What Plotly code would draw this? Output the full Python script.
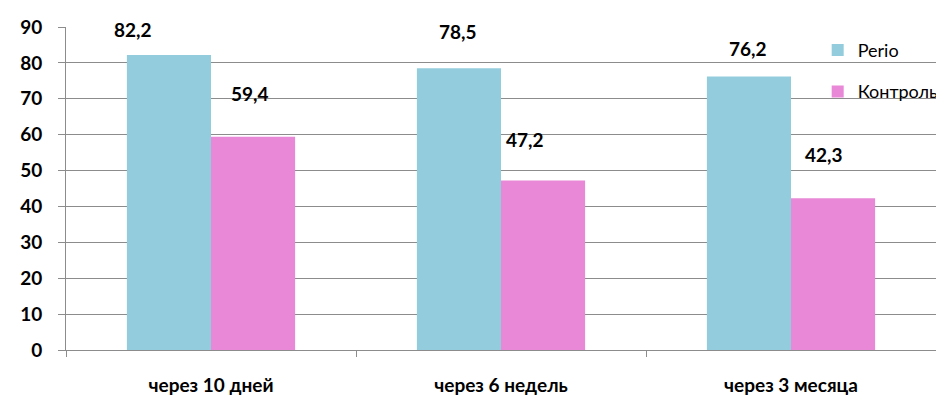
import plotly.graph_objects as go

categories = ["через 10 дней", "через 6 недель", "через 3 месяца"]
perio = [82.2, 78.5, 76.2]
control = [59.4, 47.2, 42.3]
series_names = ["Perio", "Контроль"]

# per-label nudges (pixels) for the value callouts
perio_shift = [(-36, 22), (-1, 33), (-1, 25)]
control_shift = [(-3, 40), (-18, 38), (-9, 40)]

BLUE = "#93CDDD"
PINK = "#E888D6"
GRID = "#8C8C8C"
FONT = "Lato, 'Liberation Sans', sans-serif"

fig = go.Figure()
fig.add_trace(go.Bar(x=categories, y=perio, name=series_names[0],
                     marker=dict(color=BLUE, line=dict(width=0)),
                     legendgroup="a"))
fig.add_trace(go.Bar(x=categories, y=control, name=series_names[1],
                     marker=dict(color=PINK, line=dict(width=0)),
                     legendgroup="b"))

annotations = []
for i, c in enumerate(categories):
    for vals, shifts, off in ((perio, perio_shift, -0.5), (control, control_shift, 0.5)):
        dx, dy = shifts[i]
        annotations.append(dict(
            x=c, y=vals[i], xref="x", yref="y",
            text=f"{vals[i]:.1f}".replace(".", ","),
            showarrow=False, xanchor="center", yanchor="bottom",
            xshift=off * 84 + dx, yshift=dy - 10,
            font=dict(family=FONT, size=19, color="#000000", weight="bold"),
        ))

fig.update_layout(
    width=936, height=397,
    margin=dict(l=66, r=0, t=27, b=47, autoexpand=False),
    paper_bgcolor="white", plot_bgcolor="white",
    barmode="group", bargap=0.42, bargroupgap=0,
    showlegend=True,
    legend=dict(x=0.864, y=0.985, xanchor="left", yanchor="top",
                bgcolor="rgba(0,0,0,0)", tracegroupgap=15,
                font=dict(family=FONT, size=18, color="#000000")),
    annotations=annotations,
    font=dict(family=FONT, color="#000000"),
)
fig.update_xaxes(
    showline=True, linecolor=GRID, linewidth=1,
    ticks="outside", ticklen=6, tickcolor=GRID, tickson="boundaries",
    ticklabelstandoff=18,
    tickfont=dict(family=FONT, size=19, color="#000000", weight="bold"),
    showgrid=False,
)
fig.update_yaxes(
    range=[0, 90], dtick=10,
    showline=True, linecolor=GRID, linewidth=1,
    ticks="outside", ticklen=7, tickcolor=GRID,
    ticklabelstandoff=12,
    showgrid=True, gridcolor=GRID, gridwidth=1,
    tickfont=dict(family=FONT, size=19, color="#000000", weight="bold"),
    zeroline=False,
)

fig.write_html("out.html")
